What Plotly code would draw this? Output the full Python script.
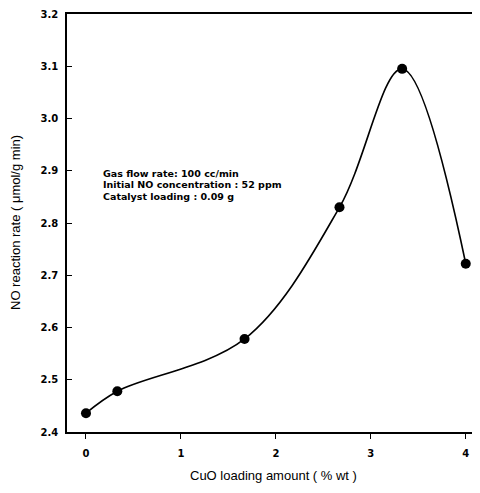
import plotly.graph_objects as go

cuo_loading = [0.0, 0.33, 1.67, 2.67, 3.33, 4.0]
no_rate = [2.436, 2.478, 2.578, 2.830, 3.095, 2.722]

x_ticks = [0, 1, 2, 3, 4]
y_ticks = [2.4, 2.5, 2.6, 2.7, 2.8, 2.9, 3.0, 3.1, 3.2]

note_lines = ["Gas flow rate: 100 cc/min",
              "Initial NO concentration : 52 ppm",
              "Catalyst loading : 0.09 g"]

FONT = "Liberation Sans, Arial, sans-serif"
BOLD = "DejaVu Sans, sans-serif"

# page body has an 8px margin: plot area spans page x 67..480, y 14..432
PL, PT, PW, PH = 67, 14, 413, 418


def px(x):
    return (x - PL) / PW


def py(y):
    return (PT + PH - y) / PH


fig = go.Figure()
fig.add_trace(go.Scatter(
    x=cuo_loading, y=no_rate, mode="lines+markers",
    line=dict(color="black", width=1.6, shape="spline", smoothing=1.0),
    marker=dict(color="black", size=10),
    showlegend=False,
))

fig.update_layout(
    width=472, height=485,
    margin=dict(l=59, r=0, t=6, b=61),
    paper_bgcolor="white", plot_bgcolor="white",
    font=dict(family=FONT, color="black"),
    xaxis=dict(range=[-0.2, 4.15], tickvals=x_ticks, ticktext=[str(v) for v in x_ticks],
               showgrid=False, zeroline=False, showline=True, linecolor="black", linewidth=1.5,
               mirror=True, ticks="outside", ticklen=5, tickcolor="black",
               ticklabelstandoff=6,
               tickfont=dict(family=BOLD, size=10, color="black", weight="bold")),
    yaxis=dict(range=[2.4, 3.2], tickvals=y_ticks, ticktext=[f"{v:.1f}" for v in y_ticks],
               showgrid=False, zeroline=False, showline=True, linecolor="black", linewidth=1.5,
               ticks="inside", ticklen=5, tickcolor="black", ticklabelstandoff=5,
               tickfont=dict(family=BOLD, size=10, color="black", weight="bold")),
)

for i, line in enumerate(note_lines):
    fig.add_annotation(text=line, xref="paper", yref="paper",
                       x=px(101), y=py(173 + 11.5 * i), xanchor="left", yanchor="middle",
                       align="left", showarrow=False,
                       font=dict(family=BOLD, size=9.5, color="black", weight="bold"))

fig.add_annotation(text="CuO loading amount ( % wt )", xref="paper", yref="paper",
                   x=0.5, y=py(476), xanchor="center", yanchor="middle",
                   showarrow=False, font=dict(family=FONT, size=13, color="black"))

fig.add_annotation(text="NO reaction rate ( \u03bcmol/g min)", xref="paper", yref="paper",
                   x=px(15), y=0.5, xanchor="center", yanchor="middle",
                   textangle=-90, showarrow=False,
                   font=dict(family=FONT, size=13, color="black"))

fig.write_html("out.html")
